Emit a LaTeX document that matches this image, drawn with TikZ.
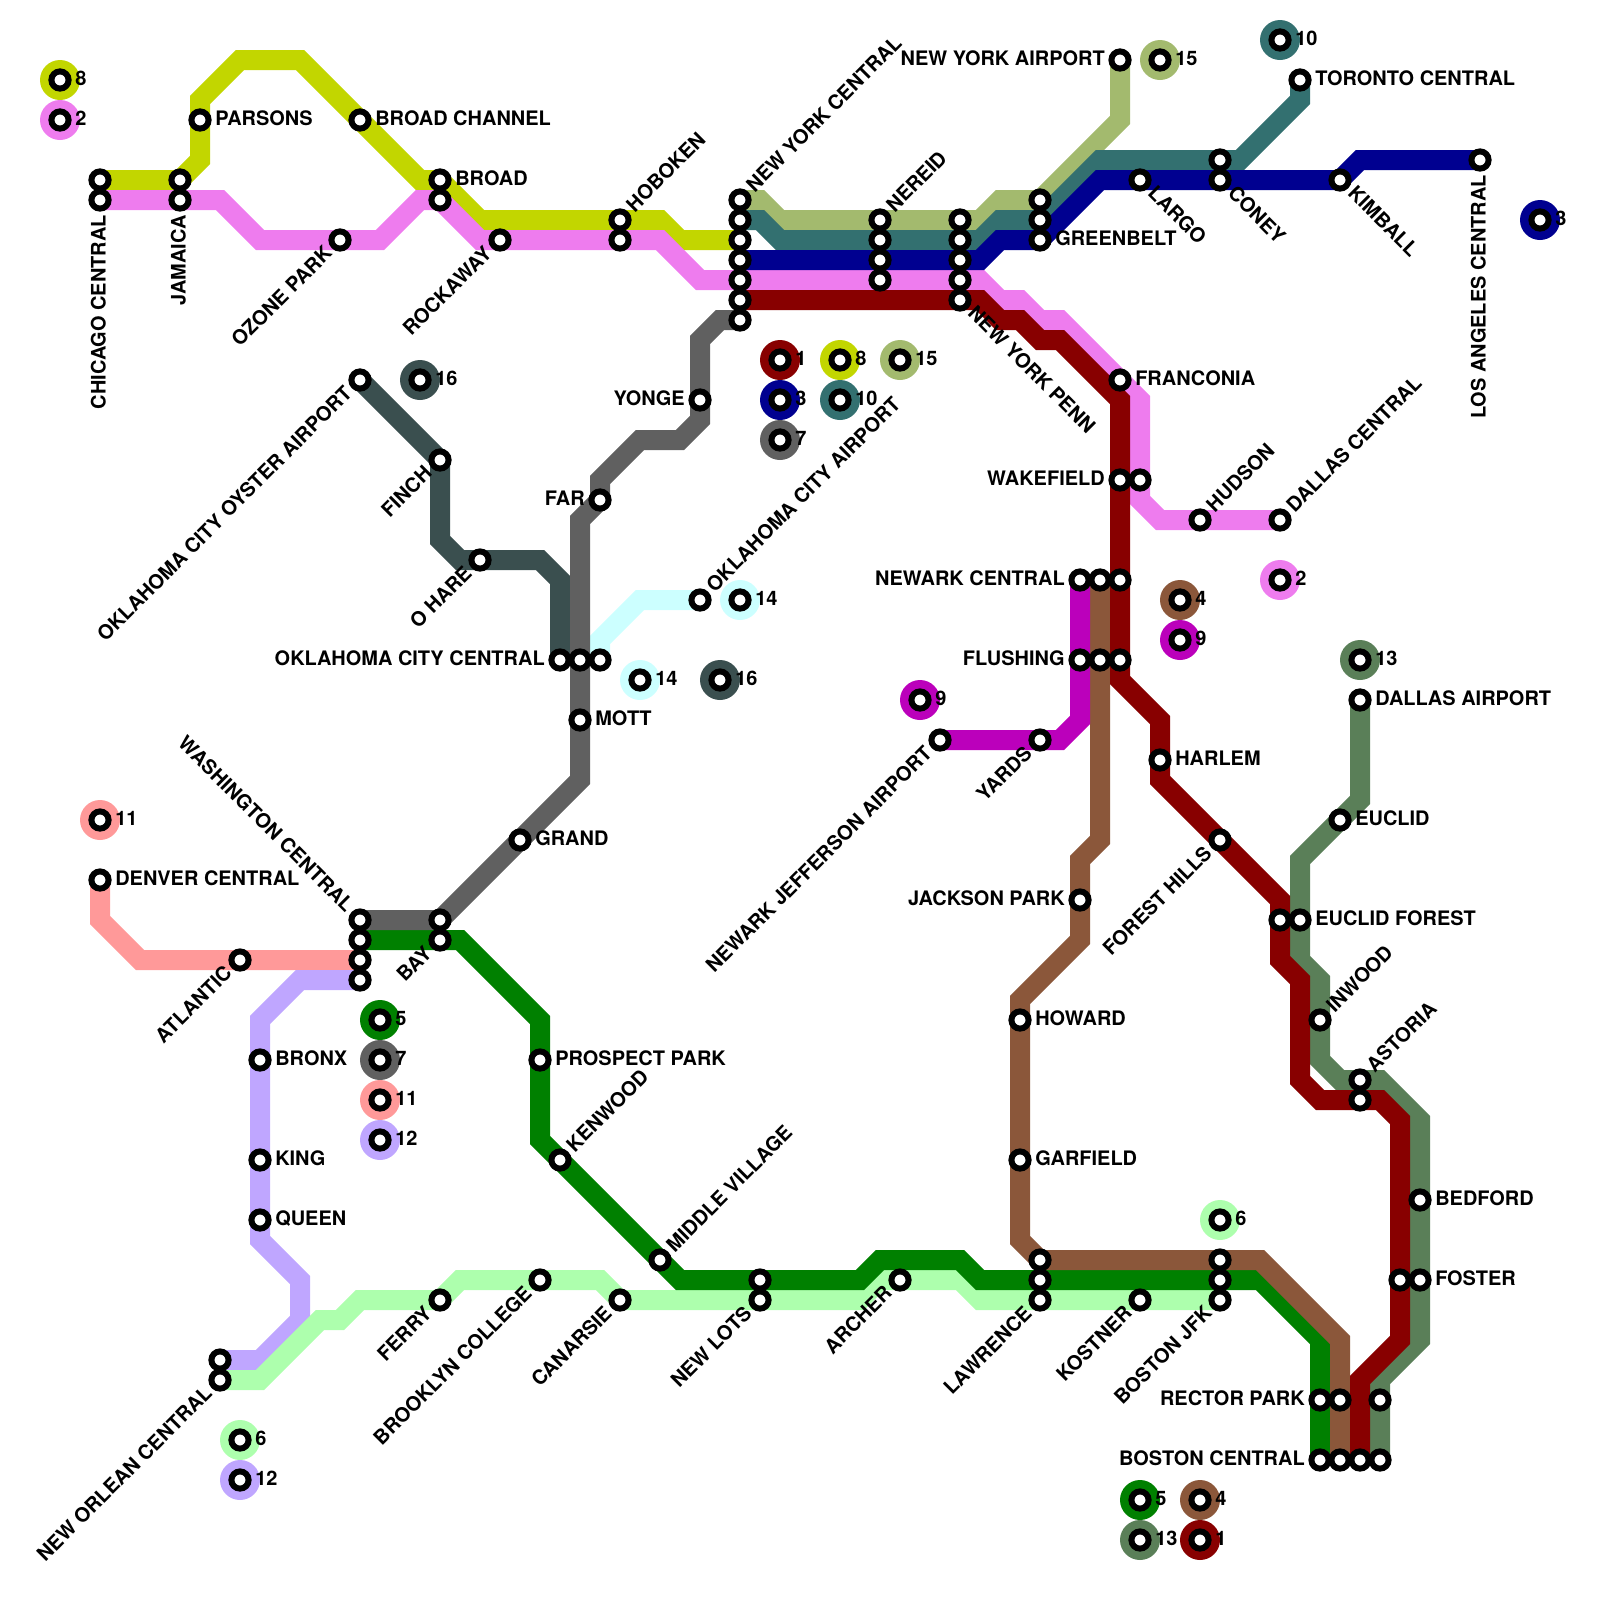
\documentclass[tikz,border=0pt]{standalone}
\usepackage{fontspec}
\setmainfont{TeX Gyre Heros}
\usetikzlibrary{backgrounds}
\definecolor{colorUno}{HTML}{880000}
\definecolor{colorDos}{HTML}{EE7CEE}
\definecolor{colorTres}{HTML}{000090}
\definecolor{colorCuatro}{HTML}{8B573A}
\definecolor{colorCinco}{HTML}{008000}
\definecolor{colorSeis}{HTML}{ADFFAD}
\definecolor{colorSiete}{HTML}{606060}
\definecolor{colorOcho}{HTML}{C2D600}
\definecolor{colorNueve}{HTML}{BB00BB}
\definecolor{colorDiez}{HTML}{337070}
\definecolor{colorOnce}{HTML}{FF9999}
\definecolor{colorDoce}{HTML}{BFA6FF}
\definecolor{colorTrece}{HTML}{5A7F58}
\definecolor{colorCatorce}{HTML}{CCFFFF}
\definecolor{colorQuince}{HTML}{A3BA6E}
\definecolor{colorDieciseis}{HTML}{3A4F4F}

\begin{document}
\begin{tikzpicture}[x=0.5cm, y=-0.5cm, font=\fontsize{14.2}{16}\selectfont\bfseries,
        stn/.style={circle, draw=black, fill=white, line width=0.15cm, minimum size=0.43cm, inner sep=0pt},
        dot/.style={circle, minimum size=1cm, inner sep=0pt},
        lin/.style={line width=0.5cm, line join=miter},
        lbl/.style={inner ysep=0pt, inner xsep=0.375cm},
        lr/.style={lbl, anchor=west, yshift=1.2pt},
        ll/.style={lbl, anchor=east, yshift=1.2pt},
        ur/.style={lbl, anchor=west, rotate=45, yshift=1.2pt},
        dr/.style={lbl, anchor=west, rotate=-45, yshift=1.2pt},
        dl/.style={lbl, anchor=east, rotate=45, yshift=1.2pt},
        ul/.style={lbl, anchor=east, rotate=-45, yshift=1.2pt},
        vd/.style={lbl, anchor=east, rotate=90, yshift=1.2pt}]
        \useasboundingbox (0,0) rectangle (80,80);
        \foreach \n/\x/\y in {cc1/5/9, cc2/5/10, ja1/9/9, ja2/9/10, pa/10/6, bc/18/6, br1/22/9, br2/22/10,
            oz/17/12, ro/25/12, ho1/31/11, ho2/31/12, ny1/37/10, ny2/37/11, ny3/37/12, ny4/37/13, ny5/37/14,
            ny6/37/15, ny7/37/16, ne1/44/11, ne2/44/12, ne3/44/13, ne4/44/14, np1/48/11, np2/48/12, np3/48/13,
            np4/48/14, np5/48/15, gr1/52/10, gr2/52/11, gr3/52/12, nya/56/3, la/57/9, co1/61/8, co2/61/9,
            to/65/4, ki/67/9, lac/74/8, fr/56/19, wa1/56/24, wa2/57/24, hu/60/26, dc/64/26, nw1/54/29,
            nw2/55/29, nw3/56/29, fl1/54/33, fl2/55/33, fl3/56/33, ha/58/38, fh/61/42, ef1/64/46, ef2/65/46,
            eu/67/41, da/68/35, iw/66/51, as1/68/54, as2/68/55, be/71/60, fo1/70/64, fo2/71/64, jp/54/45,
            how/51/51, ga/51/58, ya/52/37, nj/47/37, law1/52/63, law2/52/64, law3/52/65, bj1/61/63, bj2/61/64,
            bj3/61/65, ko/57/65, rp1/66/70, rp2/67/70, rp3/69/70, bo1/66/73, bo2/67/73, bo3/68/73, bo4/69/73,
            ar/45/64, nl1/38/64, nl2/38/65, mv/33/63, ca/31/65, bk/27/64, fe/22/65, ke/28/58, pp/27/53,
            ba1/22/46, ba2/22/47, wc1/18/46, wc2/18/47, wc3/18/48, wc4/18/49, gd/26/42, mo/29/36, ok1/28/33,
            ok2/29/33, ok3/30/33, oa/35/30, fa/30/25, yo/35/20, oh/24/28, fi/22/23, oo/18/19, de/5/44,
            atl/12/48, bx/13/53, kg/13/58, qu/13/61, no1/11/68, no2/11/69}
            \node[stn] (\n) at (\x,\y) {};
        \foreach \n/\st/\txt in {cc2/vd/CHICAGO CENTRAL, ja2/vd/JAMAICA, pa/lr/PARSONS, bc/lr/BROAD CHANNEL,
            br1/lr/BROAD, oz/dl/OZONE PARK, ro/dl/ROCKAWAY, ho1/ur/HOBOKEN, ny1/ur/NEW YORK CENTRAL,
            ne1/ur/NEREID, np5/dr/NEW YORK PENN, gr3/lr/GREENBELT, nya/ll/NEW YORK AIRPORT, la/dr/LARGO,
            co2/dr/CONEY, to/lr/TORONTO CENTRAL, ki/dr/KIMBALL, lac/vd/LOS ANGELES CENTRAL, fr/lr/FRANCONIA,
            wa1/ll/WAKEFIELD, hu/ur/HUDSON, dc/ur/DALLAS CENTRAL, nw1/ll/NEWARK CENTRAL, fl1/ll/FLUSHING,
            ha/lr/HARLEM, fh/dl/FOREST HILLS, ef2/lr/EUCLID FOREST, eu/lr/EUCLID, da/lr/DALLAS AIRPORT,
            iw/ur/INWOOD, as1/ur/ASTORIA, be/lr/BEDFORD, fo2/lr/FOSTER, jp/ll/JACKSON PARK, how/lr/HOWARD,
            ga/lr/GARFIELD, ya/dl/YARDS, nj/dl/NEWARK JEFFERSON AIRPORT, law3/dl/LAWRENCE, bj3/dl/BOSTON JFK,
            ko/dl/KOSTNER, rp1/ll/RECTOR PARK, bo1/ll/BOSTON CENTRAL, ar/dl/ARCHER, nl2/dl/NEW LOTS,
            mv/ur/MIDDLE VILLAGE, ca/dl/CANARSIE, bk/dl/BROOKLYN COLLEGE, fe/dl/FERRY, ke/ur/KENWOOD,
            pp/lr/PROSPECT PARK, ba2/dl/BAY, wc1/ul/WASHINGTON CENTRAL, gd/lr/GRAND, mo/lr/MOTT,
            ok1/ll/OKLAHOMA CITY CENTRAL, oa/ur/OKLAHOMA CITY AIRPORT, fa/ll/FAR, yo/ll/YONGE, oh/dl/O HARE,
            fi/dl/FINCH, oo/dl/OKLAHOMA CITY OYSTER AIRPORT, de/lr/DENVER CENTRAL, atl/dl/ATLANTIC,
            bx/lr/BRONX, kg/lr/KING, qu/lr/QUEEN, no2/dl/NEW ORLEAN CENTRAL}
            \node[\st] (txt\n) at (\n.center) {\txt};
        \foreach \n/\x/\y/\c/\txt in {a/3/4/colorOcho/8, b/3/6/colorDos/2, c/21/19/colorDieciseis/16,
            d/39/18/colorUno/1, e/39/20/colorTres/3, f/39/22/colorSiete/7, g/42/18/colorOcho/8,
            h/42/20/colorDiez/10, i/45/18/colorQuince/15, j/58/3/colorQuince/15, k/64/2/colorDiez/10,
            l/77/11/colorTres/3, m/59/30/colorCuatro/4, o/59/32/colorNueve/9, p/64/29/colorDos/2,
            q/68/33/colorTrece/13, r/32/34/colorCatorce/14, s/36/34/colorDieciseis/16, u/37/30/colorCatorce/14,
            v/46/35/colorNueve/9, w/5/41/colorOnce/11, y/19/51/colorCinco/5, z/19/53/colorSiete/7,
            aa/19/55/colorOnce/11, ab/19/57/colorDoce/12, ac/61/61/colorSeis/6, ad/12/72/colorSeis/6,
            ae/12/74/colorDoce/12, af/57/75/colorCinco/5, ag/57/77/colorTrece/13, ah/60/75/colorCuatro/4,
            ai/60/77/colorUno/1} {
            \node[dot, fill=\c] (leg\n) at (\x,\y) {};
            \node[stn] (ring\n) at (leg\n.center) {};
            \node[lr] (num\n) at (leg\n.center) {\txt};
        }
        \begin{pgfonlayer}{background}
            \draw[lin, colorOnce] (de.center) -- (5,46) -- (7,48) -- (atl.center) -- (wc3.center);
            \draw[lin, colorDoce] (wc4.center) -- (15,49) -- (13,51) -- (bx.center) -- (kg.center) -- (qu.center)
                -- (13,62) -- (15,64) -- (15,66) -- (13,68) -- (no1.center);
            \draw[lin, colorSeis] (no2.center) -- (13,69) -- (16,66) -- (17,66) -- (18,65) -- (fe.center) -- (23,64)
                -- (bk.center) -- (30,64) -- (ca.center) -- (nl2.center) -- (43,65) -- (44,64) -- (ar.center) -- (48,64)
                -- (49,65) -- (law3.center) -- (ko.center) -- (bj3.center);
            \draw[lin, colorCinco] (wc2.center) -- (ba2.center) -- (23,47) -- (27,51) -- (pp.center) -- (27,57)
                -- (ke.center) -- (mv.center) -- (34,64) -- (nl1.center) -- (43,64) -- (44,63) -- (48,63) -- (49,64)
                -- (law2.center) -- (bj2.center) -- (63,64) -- (66,67) -- (rp1.center) -- (bo1.center);
            \draw[lin, colorCuatro] (nw2.center) -- (fl2.center) -- (55,42) -- (54,43) -- (jp.center) -- (54,47)
                -- (51,50) -- (how.center) -- (ga.center) -- (51,62) -- (law1.center) -- (bj1.center) -- (63,63)
                -- (67,67) -- (rp2.center) -- (bo2.center);
            \draw[lin, colorNueve] (nj.center) -- (ya.center) -- (53,37) -- (54,36) -- (fl1.center) -- (nw1.center);
            \draw[lin, colorDieciseis] (oo.center) -- (fi.center) -- (22,27) -- (23,28) -- (oh.center) -- (27,28)
                -- (28,29) -- (ok1.center);
            \draw[lin, colorCatorce] (ok3.center) -- (30,32) -- (32,30) -- (oa.center);
            \draw[lin, colorSiete] (ny7.center) -- (36,16) -- (35,17) -- (yo.center) -- (35,21) -- (34,22) -- (32,22)
                -- (30,24) -- (fa.center) -- (29,26) -- (ok2.center) -- (mo.center) -- (29,39) -- (gd.center)
                -- (ba1.center) -- (wc1.center);
            \draw[lin, colorOcho] (cc1.center) -- (ja1.center) -- (10,8) -- (pa.center) -- (10,5) -- (12,3) -- (15,3)
                -- (bc.center) -- (21,9) -- (br1.center) -- (24,11) -- (ho1.center) -- (33,11) -- (34,12) -- (ny3.center);
            \draw[lin, colorDos] (cc2.center) -- (ja2.center) -- (11,10) -- (13,12) -- (oz.center) -- (19,12) -- (21,10)
                -- (br2.center) -- (24,12) -- (ro.center) -- (ho2.center) -- (33,12) -- (35,14) -- (ny5.center)
                -- (ne4.center) -- (np4.center) -- (49,14) -- (50,15) -- (51,15) -- (52,16) -- (53,16) -- (fr.center)
                -- (57,20) -- (wa2.center) -- (57,25) -- (58,26) -- (hu.center) -- (dc.center);
            \draw[lin, colorQuince] (ny1.center) -- (38,10) -- (39,11) -- (ne1.center) -- (np1.center) -- (49,11)
                -- (50,10) -- (gr1.center) -- (56,6) -- (nya.center);
            \draw[lin, colorDiez] (ny2.center) -- (38,11) -- (39,12) -- (ne2.center) -- (np2.center) -- (49,12)
                -- (50,11) -- (gr2.center) -- (55,8) -- (co1.center) -- (62,8) -- (65,5) -- (to.center);
            \draw[lin, colorTres] (ny4.center) -- (ne3.center) -- (np3.center) -- (49,13) -- (50,12) -- (gr3.center)
                -- (55,9) -- (la.center) -- (co2.center) -- (ki.center) -- (68,8) -- (lac.center);
            \draw[lin, colorTrece] (da.center) -- (68,40) -- (eu.center) -- (65,43) -- (ef2.center) -- (65,48) -- (66,49)
                -- (iw.center) -- (66,53) -- (67,54) -- (as1.center) -- (69,54) -- (71,56) -- (be.center) -- (fo2.center)
                -- (71,67) -- (69,69) -- (rp3.center) -- (bo4.center);
            \draw[lin, colorUno] (ny6.center) -- (np5.center) -- (49,15) -- (50,16) -- (51,16) -- (52,17) -- (53,17)
                -- (56,20) -- (wa1.center) -- (nw3.center) -- (fl3.center) -- (56,34) -- (58,36) -- (ha.center) -- (58,39)
                -- (fh.center) -- (64,45) -- (ef1.center) -- (64,48) -- (65,49) -- (65,54) -- (66,55) -- (as2.center)
                -- (69,55) -- (70,56) -- (fo1.center) -- (70,67) -- (68,69) -- (bo3.center);
        \end{pgfonlayer}
    \end{tikzpicture}
\end{document}
